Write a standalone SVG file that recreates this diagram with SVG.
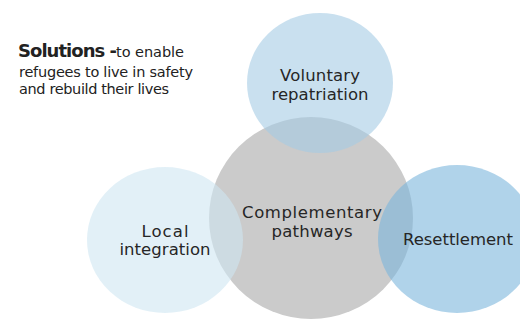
<svg xmlns="http://www.w3.org/2000/svg" width="520" height="320" viewBox="0 0 520 320">
<style>
.lbl{font-family:"DejaVu Sans","Liberation Sans",sans-serif;font-size:16.5px;fill:#262626;text-anchor:middle}
.t{font-family:"DejaVu Sans","Liberation Sans",sans-serif;font-size:14.5px;fill:#222}
.b{font-weight:bold;font-size:18px}
.blue{opacity:0.6}
</style>
<rect width="520" height="320" fill="#ffffff"/>
<g id="title">
<text class="t" x="18" y="57"><tspan class="b" textLength="99">Solutions -</tspan><tspan textLength="68">to enable</tspan></text>
<text class="t" x="19" y="77" textLength="174">refugees to live in safety</text>
<text class="t" x="19" y="94" textLength="150">and rebuild their lives</text>
</g>
<g id="complementary">
<ellipse cx="311" cy="218" rx="102" ry="101" fill="#cbcbcb"/>
</g>
<g id="voluntary">
<ellipse class="blue" cx="320" cy="83" rx="73" ry="70" fill="#a5cbe4"/>
</g>
<g id="local">
<ellipse class="blue" cx="165" cy="240" rx="78" ry="73" fill="#cee6f2"/>
</g>
<g id="resettlement">
<ellipse class="blue" cx="457" cy="239" rx="79" ry="74" fill="#7bb6dc"/>
</g>
<g id="labels">
<text class="lbl" x="320" y="81" textLength="80">Voluntary</text>
<text class="lbl" x="320" y="99.5" textLength="97">repatriation</text>
<text class="lbl" x="312" y="218" textLength="140">Complementary</text>
<text class="lbl" x="312" y="237" textLength="81">pathways</text>
<text class="lbl" x="458" y="245" textLength="110">Resettlement</text>
<text class="lbl" x="165" y="236.5" textLength="47">Local</text>
<text class="lbl" x="165" y="255" textLength="91">integration</text>
</g>
</svg>
